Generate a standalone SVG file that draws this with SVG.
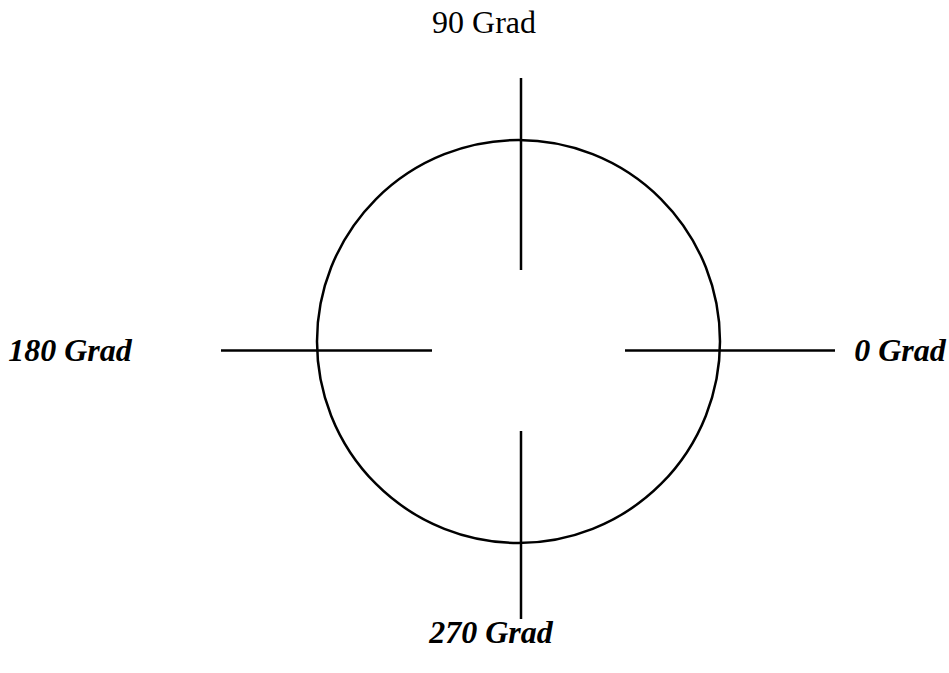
<svg xmlns="http://www.w3.org/2000/svg" width="949" height="673" viewBox="0 0 949 673">
<style>
.ln{stroke:#000;stroke-width:2.5;fill:none}
.lbl{font-family:"Liberation Serif","Times New Roman",serif;font-size:32px;fill:#000}
.bi{font-weight:bold;font-style:italic}
</style>
<rect width="949" height="673" fill="#fff"/>
<g id="circle">
<circle class="ln" cx="518.5" cy="341.5" r="201.5"/>
</g>
<g id="connectors">
<line class="ln" x1="521" y1="78" x2="521" y2="270"/>
<line class="ln" x1="521" y1="431" x2="521" y2="619"/>
<line class="ln" x1="221" y1="350.5" x2="432" y2="350.5"/>
<line class="ln" x1="625" y1="350.5" x2="835" y2="350.5"/>
</g>
<g id="label-90"><text class="lbl" x="484" y="33" text-anchor="middle">90 Grad</text></g>
<g id="label-180"><text class="lbl bi" x="70" y="361" text-anchor="middle">180 Grad</text></g>
<g id="label-0"><text class="lbl bi" x="900" y="361" text-anchor="middle">0 Grad</text></g>
<g id="label-270"><text class="lbl bi" x="491" y="643" text-anchor="middle">270 Grad</text></g>
</svg>
